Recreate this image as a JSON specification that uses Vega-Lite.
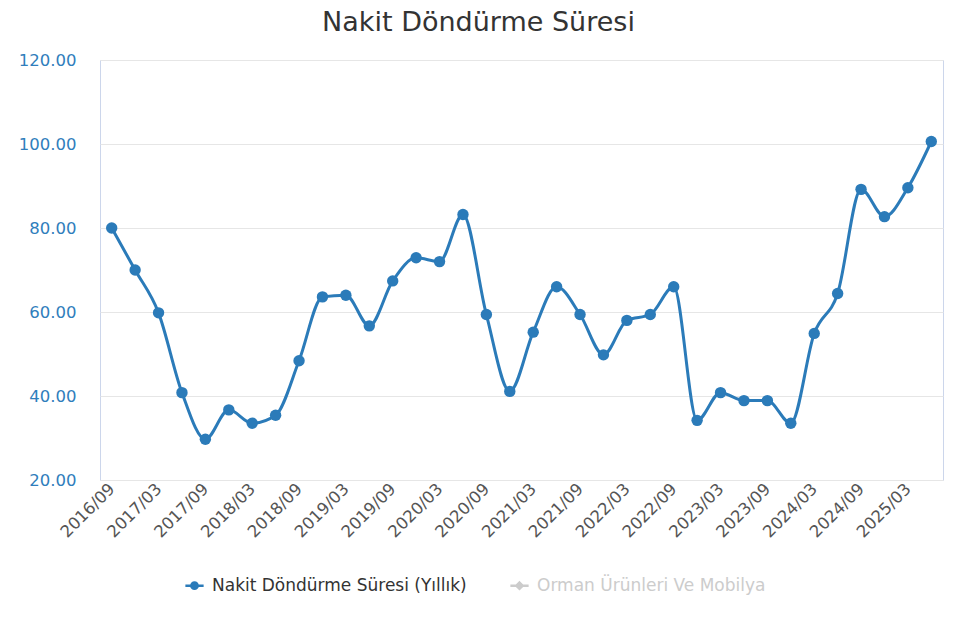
{
  "$schema": "https://vega.github.io/schema/vega-lite/v6.json",
  "width": 843,
  "height": 420,
  "autosize": {"type": "none"},
  "padding": {"left": 100, "top": 60, "right": 15, "bottom": 159},
  "background": "white",
  "title": {"text": "Nakit Döndürme Süresi", "fontSize": 27, "font": "DejaVu Sans", "fontWeight": "normal", "color": "#333333", "anchor": "middle", "dx": -43, "offset": 15},
  "data": {"values": [
    {"d": "2016/09", "v": 80.0, "s": "Nakit Döndürme Süresi (Yıllık)"},
    {"d": "2016/12", "v": 70.0, "s": "Nakit Döndürme Süresi (Yıllık)"},
    {"d": "2017/03", "v": 59.8, "s": "Nakit Döndürme Süresi (Yıllık)"},
    {"d": "2017/06", "v": 40.8, "s": "Nakit Döndürme Süresi (Yıllık)"},
    {"d": "2017/09", "v": 29.7, "s": "Nakit Döndürme Süresi (Yıllık)"},
    {"d": "2017/12", "v": 36.7, "s": "Nakit Döndürme Süresi (Yıllık)"},
    {"d": "2018/03", "v": 33.5, "s": "Nakit Döndürme Süresi (Yıllık)"},
    {"d": "2018/06", "v": 35.4, "s": "Nakit Döndürme Süresi (Yıllık)"},
    {"d": "2018/09", "v": 48.4, "s": "Nakit Döndürme Süresi (Yıllık)"},
    {"d": "2018/12", "v": 63.6, "s": "Nakit Döndürme Süresi (Yıllık)"},
    {"d": "2019/03", "v": 64.0, "s": "Nakit Döndürme Süresi (Yıllık)"},
    {"d": "2019/06", "v": 56.7, "s": "Nakit Döndürme Süresi (Yıllık)"},
    {"d": "2019/09", "v": 67.4, "s": "Nakit Döndürme Süresi (Yıllık)"},
    {"d": "2019/12", "v": 72.9, "s": "Nakit Döndürme Süresi (Yıllık)"},
    {"d": "2020/03", "v": 72.0, "s": "Nakit Döndürme Süresi (Yıllık)"},
    {"d": "2020/06", "v": 83.2, "s": "Nakit Döndürme Süresi (Yıllık)"},
    {"d": "2020/09", "v": 59.4, "s": "Nakit Döndürme Süresi (Yıllık)"},
    {"d": "2020/12", "v": 41.1, "s": "Nakit Döndürme Süresi (Yıllık)"},
    {"d": "2021/03", "v": 55.2, "s": "Nakit Döndürme Süresi (Yıllık)"},
    {"d": "2021/06", "v": 66.0, "s": "Nakit Döndürme Süresi (Yıllık)"},
    {"d": "2021/09", "v": 59.4, "s": "Nakit Döndürme Süresi (Yıllık)"},
    {"d": "2021/12", "v": 49.8, "s": "Nakit Döndürme Süresi (Yıllık)"},
    {"d": "2022/03", "v": 58.0, "s": "Nakit Döndürme Süresi (Yıllık)"},
    {"d": "2022/06", "v": 59.4, "s": "Nakit Döndürme Süresi (Yıllık)"},
    {"d": "2022/09", "v": 66.0, "s": "Nakit Döndürme Süresi (Yıllık)"},
    {"d": "2022/12", "v": 34.2, "s": "Nakit Döndürme Süresi (Yıllık)"},
    {"d": "2023/03", "v": 40.8, "s": "Nakit Döndürme Süresi (Yıllık)"},
    {"d": "2023/06", "v": 38.9, "s": "Nakit Döndürme Süresi (Yıllık)"},
    {"d": "2023/09", "v": 38.9, "s": "Nakit Döndürme Süresi (Yıllık)"},
    {"d": "2023/12", "v": 33.5, "s": "Nakit Döndürme Süresi (Yıllık)"},
    {"d": "2024/03", "v": 54.9, "s": "Nakit Döndürme Süresi (Yıllık)"},
    {"d": "2024/06", "v": 64.4, "s": "Nakit Döndürme Süresi (Yıllık)"},
    {"d": "2024/09", "v": 89.2, "s": "Nakit Döndürme Süresi (Yıllık)"},
    {"d": "2024/12", "v": 82.7, "s": "Nakit Döndürme Süresi (Yıllık)"},
    {"d": "2025/03", "v": 89.6, "s": "Nakit Döndürme Süresi (Yıllık)"},
    {"d": "2025/06", "v": 100.6, "s": "Nakit Döndürme Süresi (Yıllık)"}
  ]},
  "encoding": {
    "x": {
      "field": "d", "type": "ordinal", "sort": null,
      "scale": {"type": "point", "padding": 0.5},
      "axis": {
        "title": null,
        "values": ["2016/09","2017/03","2017/09","2018/03","2018/09","2019/03","2019/09","2020/03","2020/09","2021/03","2021/09","2022/03","2022/09","2023/03","2023/09","2024/03","2024/09","2025/03"],
        "labelAngle": -45, "labelAlign": "right", "labelBaseline": "middle",
        "labelFontSize": 16.5, "labelFont": "DejaVu Sans", "labelColor": "#555555",
        "labelPadding": 6, "ticks": false, "domain": false, "grid": false, "labelLimit": 0
      }
    },
    "y": {
      "field": "v", "type": "quantitative",
      "scale": {"domain": [20, 120], "nice": false, "zero": false},
      "axis": {
        "title": null, "values": [20, 40, 60, 80, 100, 120], "format": ".2f",
        "labelFontSize": 16.5, "labelFont": "DejaVu Sans", "labelColor": "#2f7ebc",
        "labelPadding": 24, "ticks": false, "domain": false,
        "gridColor": "#e6e6e6", "gridWidth": 1
      }
    },
    "color": {
      "field": "s", "type": "nominal",
      "scale": {"domain": ["Nakit Döndürme Süresi (Yıllık)", "Orman Ürünleri Ve Mobilya"], "range": ["#2b7bb9", "#cccccc"]},
      "legend": {
        "title": null, "orient": "none", "direction": "horizontal",
        "legendX": 86, "legendY": 517,
        "labelFontSize": 17, "labelFont": "DejaVu Sans", "labelColor": "#333333", "labelLimit": 0,
        "symbolSize": 130, "symbolStrokeWidth": 2, "columnPadding": 38, "labelOffset": 9,
        "encode": {
          "symbols": {"update": {
            "shape": {"signal": "datum.label === 'Orman Ürünleri Ve Mobilya' ? 'M-1.6,0L1.6,0M0,-0.55L0.55,0L0,0.55L-0.55,0Z' : 'M-1.6,0L1.6,0M0.55,0A0.55,0.55,0,1,1,-0.55,0A0.55,0.55,0,1,1,0.55,0Z'"},
            "stroke": {"signal": "datum.label === 'Orman Ürünleri Ve Mobilya' ? '#cccccc' : '#2b7bb9'"},
            "fill": {"signal": "datum.label === 'Orman Ürünleri Ve Mobilya' ? '#cccccc' : '#2b7bb9'"},
            "strokeWidth": {"value": 2.5},
            "opacity": {"value": 1}
          }},
          "labels": {"update": {
            "fill": {"signal": "datum.label === 'Orman Ürünleri Ve Mobilya' ? '#cccccc' : '#333333'"}
          }}
        }
      }
    }
  },
  "layer": [
    {"mark": {"type": "line", "interpolate": "monotone", "strokeWidth": 3}},
    {"mark": {"type": "point", "filled": true, "size": 130, "opacity": 1}}
  ],
  "config": {
    "view": {"stroke": "#ccd6eb", "strokeWidth": 1}
  }
}
